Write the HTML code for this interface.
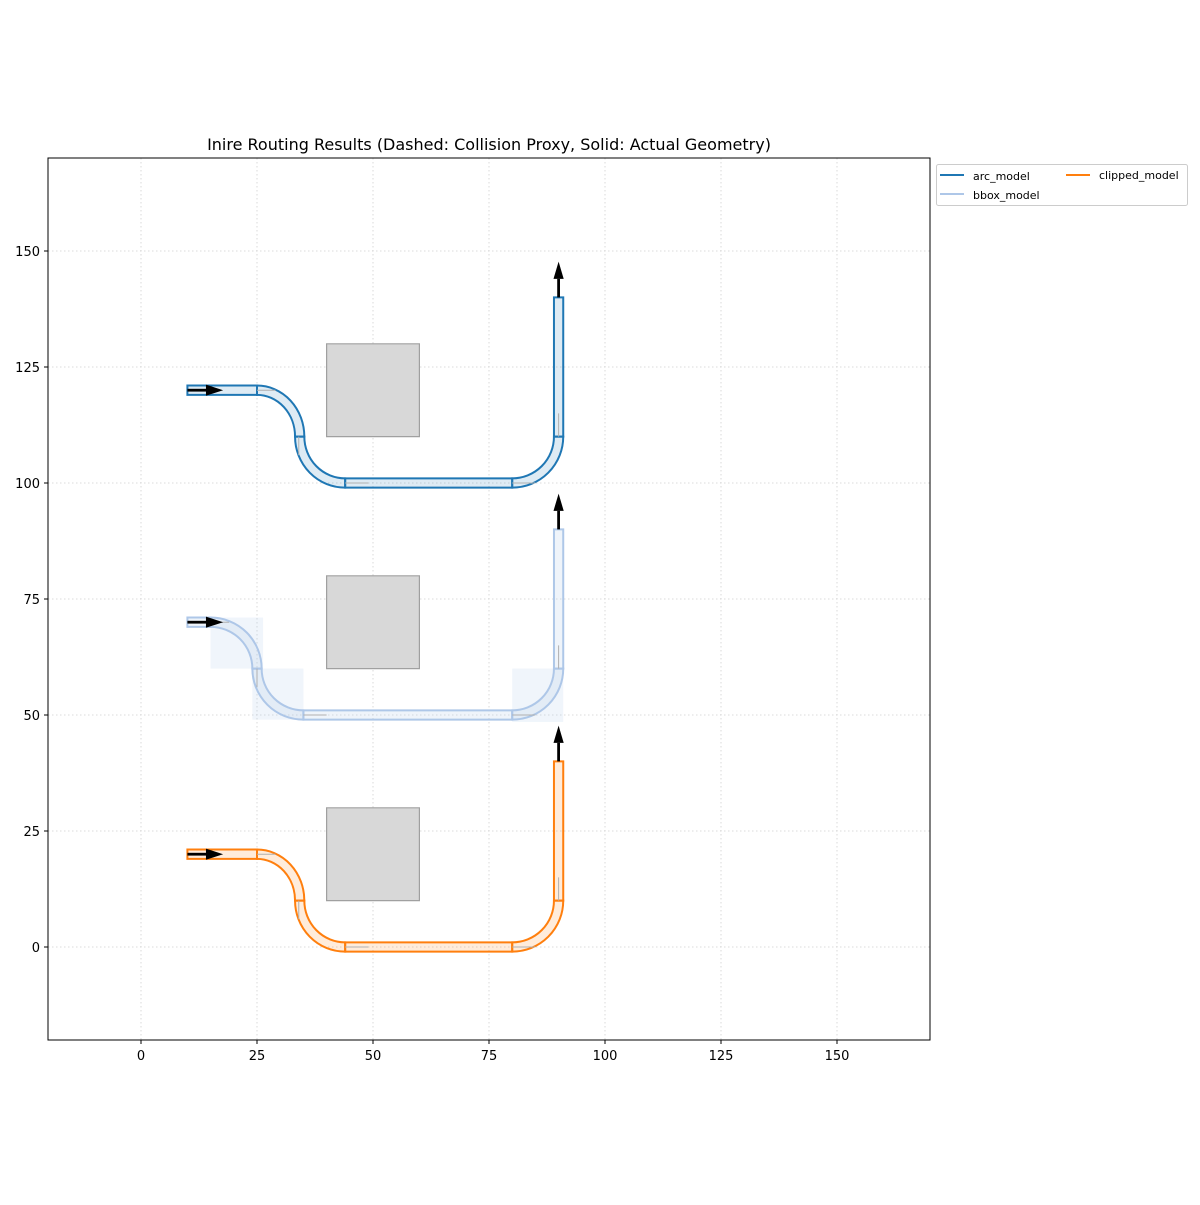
<!DOCTYPE html>
<html><head><meta charset="utf-8"><style>
body{margin:0;background:#fff}
svg text{font-family:"DejaVu Sans","Liberation Sans",sans-serif}
</style></head><body>
<svg width="1200" height="1200" viewBox="0 0 1200 1200" xmlns="http://www.w3.org/2000/svg">
<rect width="1200" height="1200" fill="#fff"/>
<g stroke="#d0d0d0" stroke-width="0.8" stroke-dasharray="1.5,2.5">
<line x1="141" y1="158" x2="141" y2="1040"/><line x1="257" y1="158" x2="257" y2="1040"/><line x1="373" y1="158" x2="373" y2="1040"/><line x1="489" y1="158" x2="489" y2="1040"/><line x1="605" y1="158" x2="605" y2="1040"/><line x1="721" y1="158" x2="721" y2="1040"/><line x1="837" y1="158" x2="837" y2="1040"/>
<line x1="48" y1="947" x2="930" y2="947"/><line x1="48" y1="831" x2="930" y2="831"/><line x1="48" y1="715" x2="930" y2="715"/><line x1="48" y1="599" x2="930" y2="599"/><line x1="48" y1="483" x2="930" y2="483"/><line x1="48" y1="367" x2="930" y2="367"/><line x1="48" y1="251" x2="930" y2="251"/>
</g>
<g transform="translate(141,947) scale(4.64,-4.64)">
<g fill="#d8d8d8" stroke="#a0a0a0" stroke-width="1.2">
<rect x="40" y="110" width="20" height="20" vector-effect="non-scaling-stroke"/>
<rect x="40" y="60" width="20" height="20" vector-effect="non-scaling-stroke"/>
<rect x="40" y="10" width="20" height="20" vector-effect="non-scaling-stroke"/>
</g>
<g fill="#aec7e8" fill-opacity="0.18">
<rect x="15" y="60" width="11.3" height="11"/>
<rect x="24" y="49" width="11" height="11"/>
<rect x="80" y="48.5" width="11" height="11.5"/>
</g>
<g fill="#1f77b4" fill-opacity="0.15" stroke="#1f77b4" stroke-width="2">
<path vector-effect="non-scaling-stroke" d="M10,119 L25,119 L25,121 L10,121 Z"/>
<path vector-effect="non-scaling-stroke" d="M25,121 A10.2 11 0 0 0 35.2,110 L33.2,110 A8.2 9 0 0 1 25,119 Z"/>
<path vector-effect="non-scaling-stroke" d="M33.2,110 A10.8 11 0 0 1 44,99 L44,101 A8.8 9 0 0 0 35.2,110 Z"/>
<path vector-effect="non-scaling-stroke" d="M44,99 L80,99 L80,101 L44,101 Z"/>
<path vector-effect="non-scaling-stroke" d="M80,99 A11 11 0 0 1 91,110 L89,110 A9 9 0 0 0 80,101 Z"/>
<path vector-effect="non-scaling-stroke" d="M89,110 L91,110 L91,140 L89,140 Z"/>
</g>
<g fill="#aec7e8" fill-opacity="0.2" stroke="#aec7e8" stroke-width="2">
<path vector-effect="non-scaling-stroke" d="M10,69 L15,69 L15,71 L10,71 Z"/>
<path vector-effect="non-scaling-stroke" d="M15,71 A11 11 0 0 0 26,60 L24,60 A9 9 0 0 1 15,69 Z"/>
<path vector-effect="non-scaling-stroke" d="M24,60 A11 11 0 0 1 35,49 L35,51 A9 9 0 0 0 26,60 Z"/>
<path vector-effect="non-scaling-stroke" d="M35,49 L80,49 L80,51 L35,51 Z"/>
<path vector-effect="non-scaling-stroke" d="M80,49 A11 11 0 0 1 91,60 L89,60 A9 9 0 0 0 80,51 Z"/>
<path vector-effect="non-scaling-stroke" d="M89,60 L91,60 L91,90 L89,90 Z"/>
</g>
<g fill="#ff7f0e" fill-opacity="0.15" stroke="#ff7f0e" stroke-width="2">
<path vector-effect="non-scaling-stroke" d="M10,19 L25,19 L25,21 L10,21 Z"/>
<path vector-effect="non-scaling-stroke" d="M25,21 A10.2 11 0 0 0 35.2,10 L33.2,10 A8.2 9 0 0 1 25,19 Z"/>
<path vector-effect="non-scaling-stroke" d="M33.2,10 A10.8 11 0 0 1 44,-1 L44,1 A8.8 9 0 0 0 35.2,10 Z"/>
<path vector-effect="non-scaling-stroke" d="M44,-1 L80,-1 L80,1 L44,1 Z"/>
<path vector-effect="non-scaling-stroke" d="M80,-1 A11 11 0 0 1 91,10 L89,10 A9 9 0 0 0 80,1 Z"/>
<path vector-effect="non-scaling-stroke" d="M89,10 L91,10 L91,40 L89,40 Z"/>
</g>
<g stroke="#b0b0b0" stroke-width="1" fill="none">
<path vector-effect="non-scaling-stroke" d="M44,100 L49,100 M80,100 L85,100 M90,110 L90,115 M35,50 L40,50 M80,50 L85,50 M90,60 L90,65 M44,0 L49,0 M80,0 L85,0 M90,10 L90,15 M25,120 L29,120 M25,20 L29,20 M34,110 L34,106 M34,10 L34,6 M25,60 L25,56 M15,70 L19,70"/>
</g>
<g fill="#000">
<rect x="10" y="119.7" width="5" height="0.6"/><path d="M14,121.2 L17.7,120 L14,118.8 Z"/>
<rect x="10" y="69.7" width="5" height="0.6"/><path d="M14,71.2 L17.7,70 L14,68.8 Z"/>
<rect x="10" y="19.7" width="5" height="0.6"/><path d="M14,21.2 L17.7,20 L14,18.8 Z"/>
<rect x="89.7" y="140" width="0.6" height="4"/><path d="M88.9,144 L90,147.7 L91.1,144 Z"/>
<rect x="89.7" y="90" width="0.6" height="4"/><path d="M88.9,94 L90,97.7 L91.1,94 Z"/>
<rect x="89.7" y="40" width="0.6" height="4"/><path d="M88.9,44 L90,47.7 L91.1,44 Z"/>
</g>
</g>
<rect x="48" y="158" width="882" height="882" fill="none" stroke="#000" stroke-width="1"/>
<g stroke="#000"><line x1="141" y1="1040" x2="141" y2="1044"/><line x1="257" y1="1040" x2="257" y2="1044"/><line x1="373" y1="1040" x2="373" y2="1044"/><line x1="489" y1="1040" x2="489" y2="1044"/><line x1="605" y1="1040" x2="605" y2="1044"/><line x1="721" y1="1040" x2="721" y2="1044"/><line x1="837" y1="1040" x2="837" y2="1044"/>
<line x1="44" y1="947" x2="48" y2="947"/><line x1="44" y1="831" x2="48" y2="831"/><line x1="44" y1="715" x2="48" y2="715"/><line x1="44" y1="599" x2="48" y2="599"/><line x1="44" y1="483" x2="48" y2="483"/><line x1="44" y1="367" x2="48" y2="367"/><line x1="44" y1="251" x2="48" y2="251"/></g>
<g font-size="13" text-anchor="middle" fill="#000">
<text x="141" y="1060">0</text><text x="257" y="1060">25</text><text x="373" y="1060">50</text><text x="489" y="1060">75</text><text x="605" y="1060">100</text><text x="721" y="1060">125</text><text x="837" y="1060">150</text>
</g>
<g font-size="13" text-anchor="end" fill="#000">
<text x="40" y="952">0</text><text x="40" y="836">25</text><text x="40" y="720">50</text><text x="40" y="604">75</text><text x="40" y="488">100</text><text x="40" y="372">125</text><text x="40" y="256">150</text>
</g>
<text x="489" y="150" font-size="16" text-anchor="middle">Inire Routing Results (Dashed: Collision Proxy, Solid: Actual Geometry)</text>
<rect x="936.5" y="164.5" width="251" height="41" rx="2" fill="#fff" stroke="#ccc"/>
<line x1="940" y1="175" x2="964" y2="175" stroke="#1f77b4" stroke-width="2"/>
<line x1="940" y1="194" x2="964" y2="194" stroke="#aec7e8" stroke-width="2"/>
<line x1="1066" y1="175" x2="1090" y2="175" stroke="#ff7f0e" stroke-width="2"/>
<g font-size="11"><text x="973" y="180">arc_model</text><text x="973" y="199">bbox_model</text><text x="1099" y="179">clipped_model</text></g>
</svg>
</body></html>
